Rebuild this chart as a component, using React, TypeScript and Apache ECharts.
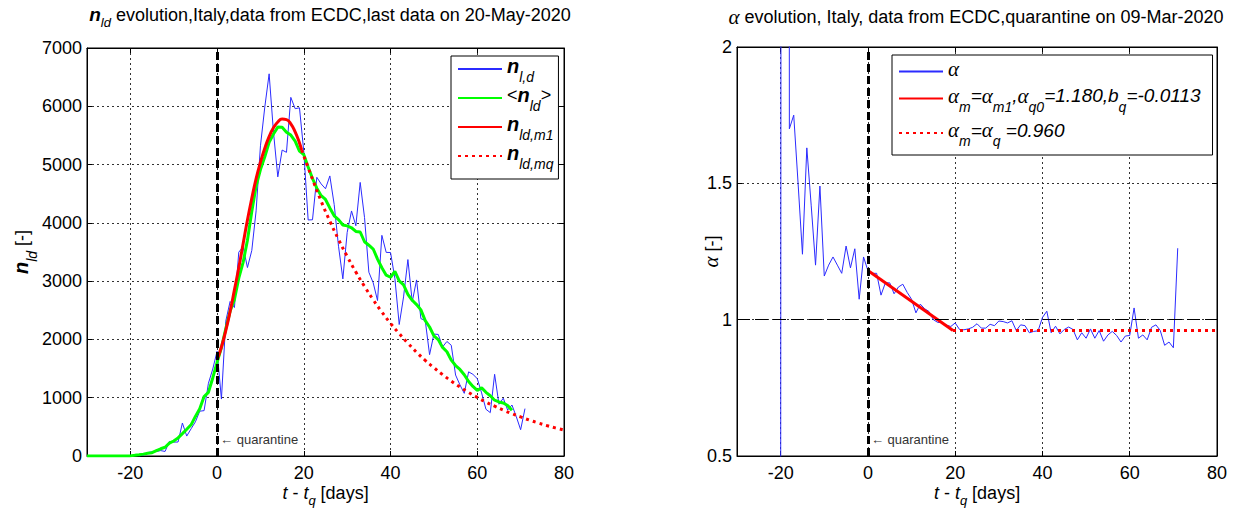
import React, { useEffect, useRef } from "react";
import * as echarts from "echarts";

const FONT = "'Liberation Sans', Arial, sans-serif";
const SERIF = "'Liberation Serif', 'DejaVu Serif', serif";

// ---------- left panel data ----------
const xTicks = [-20, 0, 20, 40, 60, 80];
const quarantineDay = 0;

const nDailyFirstDay = -18;
const nDaily = [
  0, 17, 59, 73, 77, 93, 78, 250, 238, 240, 566, 342, 466, 587, 769, 778, 1247, 1492,
  1797, 977, 2313, 2651, 2547, 3497, 3590, 3233, 3526, 4207, 5322, 5986, 6557, 5560,
  4789, 5249, 5210, 6153, 5959, 5974, 5217, 4050, 4053, 4782, 4668, 4585, 4805, 4316,
  3599, 3039, 3836, 4204, 3951, 4694, 4092, 3153, 2972, 2667, 3786, 3493, 3491, 3047,
  2256, 2729, 3370, 2646, 3021, 2357, 2324, 1739, 2091, 2086, 1872, 1965, 1900, 1389,
  1221, 1075, 1444, 1401, 1327, 1083, 802, 744, 1402, 888, 992, 789, 875, 675, 451, 813,
];

const nAvgFirstDay = -30;
const nAvg = [
  0, 0, 0, 0, 0, 0, 0, 0, 0, 0,
  2, 11, 21, 32, 46, 57, 92, 124, 150, 220, 258, 311, 384, 458, 535, 679, 812, 1019,
  1092, 1339, 1608, 1861, 2182, 2482, 2687, 3051, 3322, 3703, 4194, 4632, 4913, 5135,
  5381, 5525, 5643, 5640, 5556, 5507, 5402, 5231, 5170, 4958, 4761, 4594, 4466, 4401,
  4256, 4121, 4055, 3964, 3948, 3916, 3853, 3843, 3676, 3616, 3551, 3379, 3230, 3102,
  3067, 3167, 3005, 2937, 2775, 2672, 2598, 2507, 2323, 2213, 2062, 1997, 1863, 1789,
  1644, 1552, 1485, 1394, 1277, 1193, 1125, 1172, 1092, 1034, 957, 927, 909, 867, 783,
];

const nM1Days = [0, 1, 2, 3, 4, 5, 6, 7, 8, 9, 10, 11, 12, 13, 14, 15, 16, 17, 18, 19, 19.5];
const nM1 = [1650, 1870, 2150, 2480, 2850, 3230, 3640, 4050, 4420, 4760, 5040, 5280, 5480,
  5630, 5730, 5780, 5770, 5700, 5560, 5370, 5250];

const nMqDays = [19.5, 22, 24, 26, 28, 30, 32, 34, 36, 38, 40, 42, 44, 46, 48, 50, 52, 54, 56,
  58, 60, 62, 64, 66, 68, 70, 72, 74, 76, 78, 80];
const nMq = [5250, 4750, 4370, 4030, 3715, 3425, 3155, 2910, 2680, 2470, 2275, 2100, 1935,
  1780, 1640, 1515, 1395, 1285, 1185, 1090, 1005, 925, 855, 787, 725, 670, 616, 568, 523, 482, 445];

// ---------- right panel data ----------
const alphaFirstDay = -20;
const alpha = [
  0, 30, 1.70, 1.75, 1.50, 1.24, 1.63, 1.42, 1.20, 1.49, 1.16, 1.20, 1.23, 1.20, 1.17, 1.27,
  1.19, 1.26, 1.075, 1.23, 1.18, 1.17, 1.17, 1.09, 1.135, 1.135, 1.095, 1.12, 1.13, 1.10,
  1.075, 1.025, 1.057, 1.04, 1.03, 1.00, 0.99, 0.99, 0.98, 0.975, 0.988, 0.964, 0.963, 0.966,
  0.972, 0.985, 0.969, 0.969, 0.983, 0.978, 0.995, 0.993, 0.988, 0.996, 0.960, 0.981, 0.978,
  0.952, 0.957, 0.959, 1.008, 1.031, 0.952, 0.976, 0.948, 0.964, 0.973, 0.964, 0.926, 0.952,
  0.932, 0.966, 0.932, 0.960, 0.921, 0.944, 0.957, 0.942, 0.918, 0.940, 0.942, 1.043, 0.932,
  0.944, 0.926, 0.972, 0.981, 0.960, 0.906, 0.918, 0.897, 1.262,
];
const alphaM1Days = [0, 19.5];
const alphaM1 = [1.18, 0.96];
const alphaQDays = [19.5, 80];
const alphaQ = [0.96, 0.96];
const alphaRef = 1;

// ---------- layout ----------
const G1 = { left: 87, top: 48, width: 477, height: 413 };
const G2 = { left: 737, top: 47, width: 480, height: 415 };
const X_MIN = -30;
const X_MAX = 80;

const UP = [0, 0, 6, 0];
const DOWN = [16, 0, 0, 0];
const UPT = [0, 0, 4, 0];
const DOWNT = [12, 0, 0, 0];
const RICH: any = {
  b: { fontFamily: FONT, fontSize: 20, fontStyle: "italic", fontWeight: "bold", color: "#000", padding: UP },
  s: { fontFamily: FONT, fontSize: 14, fontStyle: "italic", fontWeight: "normal", color: "#000", padding: DOWN },
  r: { fontFamily: FONT, fontSize: 18, fontWeight: "normal", color: "#000", padding: UP },
  ri: { fontFamily: FONT, fontSize: 19, fontStyle: "italic", fontWeight: "normal", color: "#000", padding: UP },
  a: { fontFamily: SERIF, fontSize: 21, fontStyle: "italic", fontWeight: "normal", color: "#000", padding: UP },
  t: { fontFamily: FONT, fontSize: 18, fontWeight: "normal", color: "#000", padding: UPT },
  ti: { fontFamily: FONT, fontSize: 18, fontStyle: "italic", fontWeight: "normal", color: "#000", padding: UPT },
  ts: { fontFamily: FONT, fontSize: 13, fontStyle: "italic", fontWeight: "normal", color: "#000", padding: DOWNT },
  tb: { fontFamily: FONT, fontSize: 19, fontStyle: "italic", fontWeight: "bold", color: "#000", padding: UPT },
  ta: { fontFamily: SERIF, fontSize: 21, fontStyle: "italic", fontWeight: "normal", color: "#000", padding: UPT },
};

const LEGEND_LABELS: Record<string, string> = {
  nDaily: "{b|n}{s|l,d}",
  nAvg: "{r|<}{b|n}{s|ld}{r|>}",
  nM1: "{b|n}{s|ld,m1}",
  nMq: "{b|n}{s|ld,mq}",
  alpha: "{a|α}",
  alphaM1: "{a|α}{s|m}{ri|=}{a|α}{s|m1}{ri|,}{a|α}{s|q0}{ri|=1.180,b}{s|q}{ri|=-0.0113}",
  alphaQ: "{a|α}{s|m}{ri|=}{a|α}{s|q}{ri| =0.960}",
};

function pairs(days: number[], vals: number[]) {
  return vals.map((v, i) => [days[i], v]);
}
function fromStart(start: number, vals: number[]) {
  return vals.map((v, i) => [start + i, v]);
}

const tickLabel = { fontFamily: FONT, fontSize: 18, color: "#000" };

function xAxes(gridIndex: number) {
  return [
    {
      type: "value", gridIndex, min: X_MIN, max: X_MAX, position: "bottom",
      axisLine: { show: true, onZero: false, lineStyle: { color: "#000", width: 1 } },
      axisTick: { show: true, inside: true, length: 5, customValues: xTicks, lineStyle: { color: "#000" } },
      axisLabel: { show: true, customValues: xTicks, margin: 8, ...tickLabel },
      splitLine: { show: true, lineStyle: { color: "#333", type: [2, 3], width: 1 } },
      name: "{ti|t}{t| - }{ti|t}{ts|q}{t| [days]}",
      nameLocation: "middle",
      nameGap: 26,
      nameMoveOverlap: false,
      nameTextStyle: { rich: RICH },
    },
    {
      type: "value", gridIndex, min: X_MIN, max: X_MAX, position: "top",
      axisLine: { show: true, onZero: false, lineStyle: { color: "#000", width: 1 } },
      axisTick: { show: true, inside: true, length: 5, customValues: xTicks, lineStyle: { color: "#000" } },
      axisLabel: { show: false },
      splitLine: { show: false },
    },
  ];
}

function yAxes(gridIndex: number, min: number, max: number, interval: number, name: string, nameGap: number) {
  return [
    {
      type: "value", gridIndex, min, max, interval, position: "left",
      axisLine: { show: true, onZero: false, lineStyle: { color: "#000", width: 1 } },
      axisTick: { show: true, inside: true, length: 5, lineStyle: { color: "#000" } },
      axisLabel: { show: true, margin: 5, formatter: (v: number) => String(v), ...tickLabel },
      splitLine: { show: true, lineStyle: { color: "#333", type: [2, 3], width: 1 } },
      name,
      nameLocation: "middle",
      nameGap,
      nameRotate: 90,
      nameMoveOverlap: false,
      nameTextStyle: { rich: RICH },
    },
    {
      type: "value", gridIndex, min, max, interval, position: "right",
      axisLine: { show: true, onZero: false, lineStyle: { color: "#000", width: 1 } },
      axisTick: { show: true, inside: true, length: 5, lineStyle: { color: "#000" } },
      axisLabel: { show: false },
      splitLine: { show: false },
    },
  ];
}

const quarantineMark = {
  silent: true,
  symbol: "none",
  label: { show: false },
  lineStyle: { color: "#000", width: 3, type: [8, 4] },
  data: [{ xAxis: quarantineDay }],
  animation: false,
};

const legendBase = {
  orient: "vertical",
  itemWidth: 44, itemHeight: 14, itemTextGap: 4,
  borderColor: "#000", borderWidth: 1, backgroundColor: "#fff",
  selectedMode: false,
  itemStyle: { opacity: 0 },
  formatter: (name: string) => LEGEND_LABELS[name],
  textStyle: { rich: RICH },
};

export default function App() {
  const ref = useRef<HTMLDivElement>(null);

  useEffect(() => {
    if (!ref.current) return;
    const chart = echarts.init(ref.current, undefined, { renderer: "svg" });
    const x0L = G1.left + ((quarantineDay - X_MIN) / (X_MAX - X_MIN)) * G1.width;
    const x0R = G2.left + ((quarantineDay - X_MIN) / (X_MAX - X_MIN)) * G2.width;

    const option: any = {
      animation: false,
      backgroundColor: "#fff",
      textStyle: { fontFamily: FONT },
      title: [
        {
          text: "{tb|n}{ts|ld}{t| evolution,Italy,data from ECDC,last data on 20-May-2020}",
          left: 330, top: 4, textAlign: "center", padding: 0,
          textStyle: { fontWeight: "normal", rich: RICH },
        },
        {
          text: "{ta|α}{t| evolution, Italy, data from ECDC,quarantine on 09-Mar-2020}",
          left: 976, top: 6, textAlign: "center", padding: 0,
          textStyle: { fontWeight: "normal", rich: RICH },
        },
      ],
      grid: [
        { ...G1, show: true, borderColor: "#000", borderWidth: 1, backgroundColor: "#fff", containLabel: false },
        { ...G2, show: true, borderColor: "#000", borderWidth: 1, backgroundColor: "#fff", containLabel: false },
      ],
      xAxis: [...xAxes(0), ...xAxes(1)],
      yAxis: [
        ...yAxes(0, 0, 7000, 1000, "{b|n}{s|ld}{t| [-]}", 48),
        ...yAxes(1, 0.5, 2, 0.5, "{a|α}{t| [-]}", 10),
      ],
      legend: [
        {
          ...legendBase,
          data: ["nDaily", "nAvg", "nM1", "nMq"],
          left: 451, top: 56,
          itemGap: 1,
          padding: [0, 5, 8, 6],
        },
        {
          ...legendBase,
          data: ["alpha", "alphaM1", "alphaQ"],
          left: 892, top: 55,
          itemGap: 6,
          padding: [3, 12, 7, 6],
        },
      ],
      series: [
        {
          name: "nDaily", type: "line", xAxisIndex: 0, yAxisIndex: 0,
          data: fromStart(nDailyFirstDay, nDaily), symbol: "none",
          lineStyle: { color: "#2b2bff", width: 1 }, itemStyle: { color: "#2b2bff" },
        },
        {
          name: "nAvg", type: "line", xAxisIndex: 0, yAxisIndex: 0,
          data: fromStart(nAvgFirstDay, nAvg), symbol: "none",
          lineStyle: { color: "#00ff00", width: 3 }, itemStyle: { color: "#00ff00" },
        },
        {
          name: "nM1", type: "line", xAxisIndex: 0, yAxisIndex: 0, smooth: true,
          data: pairs(nM1Days, nM1), symbol: "none",
          lineStyle: { color: "#ff0000", width: 3 }, itemStyle: { color: "#ff0000" },
        },
        {
          name: "nMq", type: "line", xAxisIndex: 0, yAxisIndex: 0, smooth: true,
          data: pairs(nMqDays, nMq), symbol: "none",
          lineStyle: { color: "#ff0000", width: 3, type: [3, 4] }, itemStyle: { color: "#ff0000" },
          markLine: quarantineMark,
        },
        {
          name: "alpha", type: "line", xAxisIndex: 2, yAxisIndex: 2,
          data: fromStart(alphaFirstDay, alpha), symbol: "none", clip: true,
          lineStyle: { color: "#2b2bff", width: 1 }, itemStyle: { color: "#2b2bff" },
          markLine: {
            silent: true, symbol: "none", label: { show: false },
            lineStyle: { color: "#000", width: 1, type: [13, 5] },
            data: [{ yAxis: alphaRef }],
          },
        },
        {
          name: "alphaM1", type: "line", xAxisIndex: 2, yAxisIndex: 2,
          data: pairs(alphaM1Days, alphaM1), symbol: "none",
          lineStyle: { color: "#ff0000", width: 3 }, itemStyle: { color: "#ff0000" },
        },
        {
          name: "alphaQ", type: "line", xAxisIndex: 2, yAxisIndex: 2,
          data: pairs(alphaQDays, alphaQ), symbol: "none",
          lineStyle: { color: "#ff0000", width: 3, type: [3, 4] }, itemStyle: { color: "#ff0000" },
          markLine: quarantineMark,
        },
      ],
      graphic: [
        {
          type: "text", left: x0L + 3, top: 433, z: 100,
          style: { text: "← quarantine", font: `13px ${FONT}`, fill: "#333" },
        },
        {
          type: "text", left: x0R + 3, top: 433, z: 100,
          style: { text: "← quarantine", font: `13px ${FONT}`, fill: "#333" },
        },
      ],
    };
    chart.setOption(option);
    return () => chart.dispose();
  }, []);

  return (
    <div
      ref={ref}
      style={{ position: "absolute", left: 0, top: 0, width: 1233, height: 512, background: "#fff" }}
    />
  );
}
